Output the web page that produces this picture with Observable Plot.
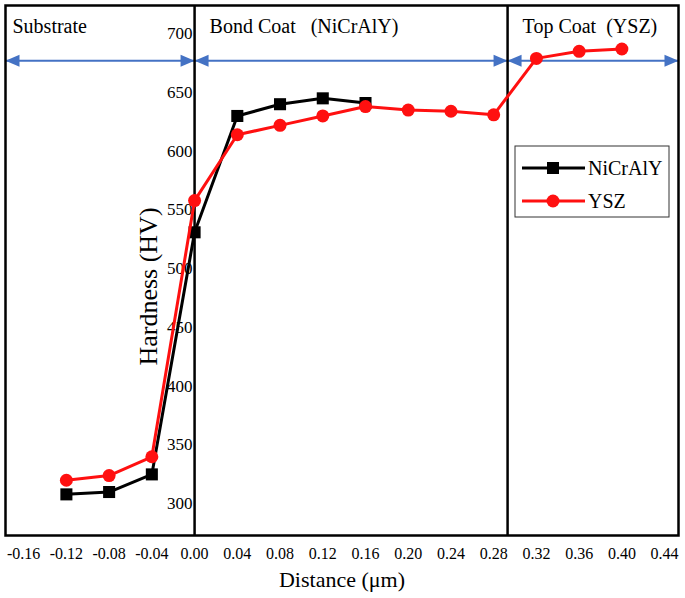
<!DOCTYPE html>
<html>
<head>
<meta charset="utf-8">
<script src="https://cdn.jsdelivr.net/npm/d3@7"></script>
<script src="https://cdn.jsdelivr.net/npm/@observablehq/plot@0.6"></script>
<style>
  html, body { margin: 0; padding: 0; background: white; }
  #chart { width: 685px; height: 598px; }
</style>
</head>
<body>
<div id="chart"></div>
<script>
// ---- data ----
const nicrX = [-0.12, -0.08, -0.04, 0.00, 0.04, 0.08, 0.12, 0.16];
const nicrY = [308, 310, 325, 531, 630, 640, 645, 641];
const yszX = [-0.12, -0.08, -0.04, 0.00, 0.04, 0.08, 0.12, 0.16, 0.20, 0.24, 0.28, 0.32, 0.36, 0.40];
const yszY = [320, 324, 340, 558, 614, 622, 630, 638, 635, 634, 631, 679, 685, 687];
const xTicks = [-0.16, -0.12, -0.08, -0.04, 0.00, 0.04, 0.08, 0.12, 0.16, 0.20, 0.24, 0.28, 0.32, 0.36, 0.40, 0.44];
const yTicks = [300, 350, 400, 450, 500, 550, 600, 650, 700];
const seriesNames = ["NiCrAlY", "YSZ"];
const xDomain = [-0.177, 0.453];
const yDomain = [273, 724];
const regionNames = ["Substrate", "Bond Coat\u00a0\u00a0\u00a0(NiCrAlY)", "Top Coat\u00a0\u00a0(YSZ)"];
const regionBounds = [xDomain[0], 0, 0.293, xDomain[1]];
const arrowLevel = 677;
const xLabel = "Distance (\u03bcm)";
const yLabel = "Hardness (HV)";

// ---- derived tables ----
const nicr = nicrX.map((x, i) => ({x, y: nicrY[i]}));
const ysz = yszX.map((x, i) => ({x, y: yszY[i]}));
const regions = regionNames.map((name, i) => ({name, x1: regionBounds[i], x2: regionBounds[i + 1]}));

const SERIF = "'Liberation Serif', 'Times New Roman', serif";
const RED = "#ff1010";
const BLUE = "#4472c4";

const arrowHead = {
  draw(ctx) {
    ctx.moveTo(0, 0);
    ctx.lineTo(-14, -6);
    ctx.lineTo(-14, 6);
    ctx.closePath();
  }
};

function legendMark() {
  const g = d3.create("svg:g").attr("font-family", SERIF).attr("font-size", 20).attr("text-anchor", "start");
  g.append("rect").attr("x", 515).attr("y", 146).attr("width", 154).attr("height", 71)
    .attr("fill", "white").attr("stroke", "#333").attr("stroke-width", 1);
  const rows = [
    {label: seriesNames[0], color: "black", sym: "square", y: 168},
    {label: seriesNames[1], color: RED, sym: "circle", y: 201}
  ];
  for (const r of rows) {
    g.append("line").attr("x1", 522).attr("x2", 585).attr("y1", r.y).attr("y2", r.y)
      .attr("stroke", r.color).attr("stroke-width", 3);
    if (r.sym === "square") {
      g.append("rect").attr("x", 547).attr("y", r.y - 6).attr("width", 12).attr("height", 12).attr("fill", r.color);
    } else {
      g.append("circle").attr("cx", 553).attr("cy", r.y).attr("r", 6.5).attr("fill", r.color);
    }
    g.append("text").attr("x", 588).attr("y", r.y).attr("dy", "0.35em").attr("fill", "black")
      .attr("text-anchor", "start").text(r.label);
  }
  return g.node();
}

const chart = Plot.plot({
  width: 685,
  height: 598,
  marginLeft: 5,
  marginRight: 7,
  marginTop: 5,
  marginBottom: 63,
  style: {fontFamily: SERIF, background: "white", color: "black"},
  x: {domain: xDomain, axis: null},
  y: {domain: yDomain, axis: null},
  marks: [
    Plot.axisX(xTicks, {tickSize: 0, tickPadding: 12, tickFormat: d => d.toFixed(2), fontSize: 16, label: null}),
    // region arrows
    Plot.ruleY(regions, {y: () => arrowLevel, x1: "x1", x2: "x2", stroke: BLUE, strokeWidth: 2}),
    Plot.dot(regions, {x: "x2", y: () => arrowLevel, symbol: arrowHead, fill: BLUE, stroke: "none", r: 6}),
    Plot.dot(regions, {x: "x1", y: () => arrowLevel, symbol: arrowHead, fill: BLUE, stroke: "none", r: 6, rotate: 180}),
    // region labels
    Plot.text([regions[0]], {x: "x1", text: "name", frameAnchor: "top", lineAnchor: "middle", textAnchor: "start", dx: 7, dy: 21, fontSize: 20}),
    Plot.text([regions[1]], {x: "x1", text: "name", frameAnchor: "top", lineAnchor: "middle", textAnchor: "start", dx: 15, dy: 21, fontSize: 20}),
    Plot.text([regions[2]], {x: "x1", text: "name", frameAnchor: "top", lineAnchor: "middle", textAnchor: "start", dx: 15, dy: 21, fontSize: 20}),
    // y tick labels at x = 0
    Plot.text(yTicks, {x: () => 0, y: d => d, text: d => String(d), textAnchor: "end", dx: -2, fontSize: 17}),
    // separators and frame
    Plot.ruleX(regionBounds.slice(1, 3), {stroke: "black", strokeWidth: 2.5}),
    Plot.frame({stroke: "black", strokeWidth: 2.5}),
    // series
    Plot.line(nicr, {x: "x", y: "y", stroke: "black", strokeWidth: 3}),
    Plot.dot(nicr, {x: "x", y: "y", symbol: "square", r: 6.8, fill: "black", stroke: "none"}),
    Plot.line(ysz, {x: "x", y: "y", stroke: RED, strokeWidth: 3}),
    Plot.dot(ysz, {x: "x", y: "y", symbol: "circle", r: 6.5, fill: RED, stroke: "none"}),
    // axis titles
    Plot.text([xLabel], {frameAnchor: "bottom", lineAnchor: "middle", textAnchor: "middle", dy: 44, fontSize: 22}),
    Plot.text([yLabel], {frameAnchor: "left", lineAnchor: "middle", textAnchor: "middle", rotate: -90, dx: 143, dy: 16, fontSize: 26}),
    legendMark
  ]
});
document.getElementById("chart").appendChild(chart);
</script>
</body>
</html>
